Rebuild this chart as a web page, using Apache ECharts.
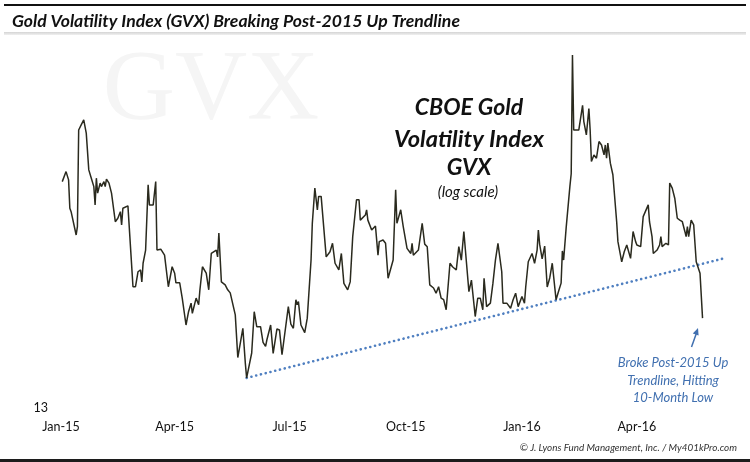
<!DOCTYPE html>
<html><head><meta charset="utf-8">
<script src="https://cdn.jsdelivr.net/npm/echarts@6/dist/echarts.min.js"></script>
<style>html,body{margin:0;padding:0;background:#fff}#c{width:750px;height:462px}</style>
</head><body><div id="c"></div>
<script>
// calendar days since 2015-01-01
const dayIndex = [1,4,6,7,8,12,13,14,16,18,20,22,24,26,27,28,29,31,32,34,35,36,38,40,41,43,45,47,48,49,53,57,59,61,63,64,65,67,69,70,73,75,76,79,82,85,88,90,91,94,96,99,101,103,104,107,109,110,112,115,117,119,123,124,125,127,130,132,134,138,140,144,146,147,151,153,155,158,160,162,163,166,168,171,173,175,180,182,184,186,187,188,190,191,193,195,196,198,199,200,201,203,204,206,210,213,215,217,220,222,224,227,229,231,234,236,237,241,242,243,246,249,251,252,255,257,259,263,265,266,269,271,274,277,278,279,283,286,288,290,292,295,297,299,301,303,305,308,310,313,315,317,319,321,323,325,328,330,332,334,335,337,340,342,344,346,349,350,353,356,358,360,362,365,367,368,370,373,375,377,378,379,381,383,385,387,389,392,394,396,397,398,400,403,404,405,406,410,411,413,414,416,418,419,420,422,424,426,428,430,431,432,433,435,437,440,441,444,446,448,451,453,455,456,459,460,461,462,465,466,468,469,472,474,475,476,479,481,482,484,486,488,490,492,494,495,496,497,499,501,503,506,508];
const gvx = [20.38,20.79,20.45,19.33,19.20,18.33,18.64,22.58,22.81,23.04,22.44,20.86,20.52,20.18,19.46,20.52,19.92,20.32,20.18,20.38,20.18,20.48,20.32,19.92,19.98,18.82,18.95,19.20,18.70,19.33,19.42,16.54,16.54,17.04,17.10,16.70,17.33,17.79,20.25,19.46,19.46,20.38,17.79,17.82,17.61,16.54,17.21,16.99,16.67,16.67,16.17,15.33,15.74,16.01,15.69,16.17,15.96,16.44,17.21,16.99,16.44,17.67,17.79,17.55,18.40,16.70,16.60,16.44,16.34,15.64,14.37,15.23,14.19,13.80,14.50,15.74,15.28,15.28,14.81,14.69,14.88,15.33,14.49,15.21,15.18,14.45,15.90,15.36,15.23,16.12,15.96,16.06,15.33,15.28,15.10,15.54,15.54,17.44,18.76,18.76,20.12,19.27,19.79,19.79,17.55,17.73,18.03,17.33,17.10,17.67,16.65,16.44,16.70,18.27,19.66,19.66,18.88,19.07,19.27,18.88,18.51,18.66,17.61,18.09,18.15,18.03,16.82,17.44,20.05,18.76,19.27,18.64,17.85,17.67,18.03,17.61,17.79,18.76,18.00,17.91,16.60,16.50,16.33,16.54,16.17,16.12,15.80,17.33,17.21,17.10,17.91,17.44,18.46,17.38,16.38,16.76,15.59,16.17,16.17,15.80,16.82,15.90,16.01,16.65,17.44,18.03,17.04,16.01,16.01,15.85,16.12,16.33,15.90,16.22,16.01,16.54,17.38,17.67,17.33,17.79,18.51,18.00,17.48,17.93,16.53,16.83,17.33,16.12,16.39,16.66,17.76,17.44,18.59,20.21,20.70,26.21,22.58,22.58,22.51,23.71,22.96,22.36,23.56,22.58,21.21,21.49,21.35,22.07,21.92,21.49,21.92,21.35,22.00,21.14,20.66,18.82,18.09,17.38,17.73,17.97,17.50,18.46,18.09,17.97,17.91,17.97,19.01,18.95,19.46,18.82,18.27,17.67,17.79,17.97,18.27,17.91,18.03,17.97,20.32,20.12,19.72,18.95,18.88,18.82,18.46,18.27,18.64,18.27,18.88,18.70,17.38,16.99,15.54];
const trendDays = [147, 526];
const trendValues = [13.80, 17.51];
const quarterTicks = ['2015-01-01','2015-04-01','2015-07-01','2015-10-01','2016-01-01','2016-04-01'];
const yTickLabels = [13];
const monthNames = ['Jan','Feb','Mar','Apr','May','Jun','Jul','Aug','Sep','Oct','Nov','Dec'];

const BASE = Date.UTC(2015,0,1), DAY = 864e5;
const lineData = dayIndex.map((d,i) => [d, gvx[i]]);
const trendData = trendDays.map((d,i) => [d, trendValues[i]]);
const quarterDays = quarterTicks.map(s => Math.round((Date.parse(s) - BASE) / DAY));
const dayLabel = d => { const dt = new Date(BASE + d * DAY); return monthNames[dt.getUTCMonth()] + '-' + String(dt.getUTCFullYear()).slice(2); };

const chart = echarts.init(document.getElementById('c'), null, {renderer:'canvas'});
const FONT = 'Lato, "Open Sans", sans-serif';
chart.setOption({
  animation: false,
  backgroundColor: '#ffffff',
  grid: {left: 55, right: 15, top: 40, bottom: 54},
  xAxis: {
    type: 'value',
    min: -4.75, max: 533.7,
    axisLine: {show:false}, axisTick: {show:false}, splitLine: {show:false},
    axisLabel: {
      customValues: quarterDays,
      margin: 12, color: '#111', fontSize: 12.5, fontFamily: FONT,
      formatter: v => dayLabel(v)
    }
  },
  yAxis: {
    type: 'log', logBase: 10, min: 13, max: 27,
    axisLine: {show:false}, axisTick: {show:false}, splitLine: {show:false},
    axisLabel: {customValues: yTickLabels, margin: 7, color: '#111', fontSize: 12.5, fontFamily: FONT,
      formatter: v => String(Math.round(v))}
  },
  series: [
    {type:'line', data: lineData, showSymbol:false, symbol:'none',
     lineStyle:{color:'#2a2a1e', width:1.5}, z:3},
    {type:'line', data: trendData, showSymbol:false, symbol:'none',
     lineStyle:{color:'#4f7fc0', width:2.6, type:[0.1,4.8], cap:'round'}, z:2}
  ],
  graphic: [
    {type:'text', z:-10, style:{x:211, y:92, text:'GVX', font:'100px "Liberation Serif", serif', fill:'#f5f5f5', align:'center', verticalAlign:'middle'}},
    {type:'rect', shape:{x:4, y:4, width:742, height:2}, style:{fill:'#111'}},
    {type:'rect', shape:{x:4, y:32, width:742, height:3}, style:{fill:new echarts.graphic.LinearGradient(0,0,0,1,[{offset:0,color:'#d4d4d4'},{offset:1,color:'#f0f0f0'}])}},
    {type:'rect', shape:{x:0, y:459, width:750, height:3}, style:{fill:'#1c1c1c'}},
    {type:'text', style:{x:12, y:21, text:'Gold Volatility Index (GVX) Breaking Post-2015 Up Trendline', font:'italic bold 17.6px Lato, sans-serif', fill:'#111', verticalAlign:'middle'}},
    {type:'text', style:{x:469, y:108, text:'CBOE Gold', font:'italic bold 23px Lato, sans-serif', fill:'#111', align:'center', verticalAlign:'middle'}},
    {type:'text', style:{x:469, y:139, text:'Volatility Index', font:'italic bold 23.6px Lato, sans-serif', fill:'#111', align:'center', verticalAlign:'middle'}},
    {type:'text', style:{x:469, y:168, text:'GVX', font:'italic bold 23px Lato, sans-serif', fill:'#111', align:'center', verticalAlign:'middle'}},
    {type:'text', style:{x:468, y:192, text:'(log scale)', font:'italic 15px Lato, sans-serif', fill:'#111', align:'center', verticalAlign:'middle'}},
    {type:'text', style:{x:673, y:363, text:'Broke Post-2015 Up', font:'italic 13px Lato, sans-serif', fill:'#4170b0', align:'center', verticalAlign:'middle'}},
    {type:'text', style:{x:673, y:381, text:'Trendline, Hitting', font:'italic 13px Lato, sans-serif', fill:'#4170b0', align:'center', verticalAlign:'middle'}},
    {type:'text', style:{x:673, y:398, text:'10-Month Low', font:'italic 13px Lato, sans-serif', fill:'#4170b0', align:'center', verticalAlign:'middle'}},
    {type:'line', shape:{x1:691.5, y1:347, x2:696.5, y2:333}, style:{stroke:'#4170b0', lineWidth:1.5}},
    {type:'polygon', shape:{points:[[698,328],[698.6,335.4],[692.8,333.4]]}, style:{fill:'#4170b0'}},
    {type:'text', style:{x:737, y:448, text:'\u00A9 J. Lyons Fund Management, Inc. / My401kPro.com', font:'italic 9.9px Lato, sans-serif', fill:'#333', align:'right', verticalAlign:'middle'}}
  ]
});
</script></body></html>
